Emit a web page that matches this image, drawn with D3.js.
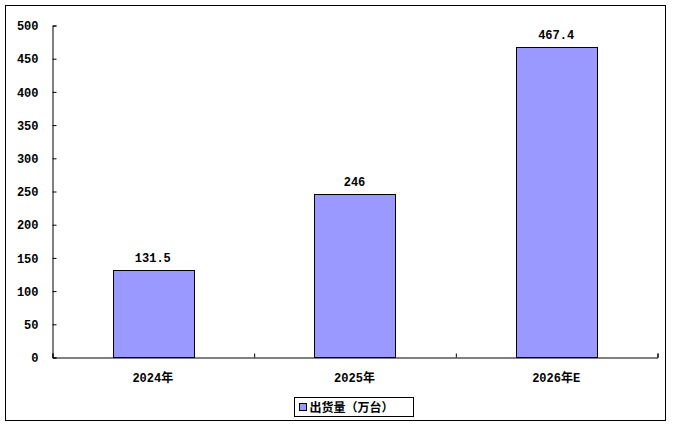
<!DOCTYPE html>
<meta charset="utf-8">
<head>
  <script src="https://d3js.org/d3.v7.min.js"></script>
  <style>
    body { margin: 0; background: #fff; }
    text { font-family: "Liberation Mono", "Noto Sans CJK SC", monospace; font-weight: bold; font-size: 12px; fill: #000; }
    .cjk { font-family: "Noto Sans CJK SC", sans-serif; }
  </style>
</head>
<body>
<script>

var categories = ["2024年", "2025年", "2026年E"];
var values = [131.5, 246, 467.4];
var valueLabels = ["131.5", "246", "467.4"];
var yTicks = [0, 50, 100, 150, 200, 250, 300, 350, 400, 450, 500];
var seriesName = "出货量（万台）";

var W = 673, H = 426;
var plot = {left: 52, right: 657, top: 25, bottom: 357};

var svg = d3.select("body").append("svg")
    .attr("width", W)
    .attr("height", H);

// outer frame
svg.append("rect")
    .attr("x", 5.5).attr("y", 5.5)
    .attr("width", 660).attr("height", 415)
    .attr("fill", "#fff")
    .attr("stroke", "#000")
    .attr("stroke-width", 1);

var x = d3.scaleBand()
    .domain(categories)
    .range([plot.left, plot.right])
    .paddingInner(0.6)
    .paddingOuter(0.3);

var y = d3.scaleLinear()
    .domain([0, 500])
    .range([plot.bottom, plot.top]);

// bars
svg.selectAll("rect.bar")
    .data(values)
  .enter().append("rect")
    .attr("class", "bar")
    .attr("x", function(d, i) { return Math.round(x(categories[i])) + 0.5; })
    .attr("y", function(d) { return Math.round(y(d)) + 0.5; })
    .attr("width", Math.round(x.bandwidth()))
    .attr("height", function(d) { return Math.round(y(0)) - Math.round(y(d)); })
    .attr("fill", "#9999ff")
    .attr("stroke", "#000")
    .attr("stroke-width", 1);

// value labels
svg.selectAll("text.val")
    .data(values)
  .enter().append("text")
    .attr("class", "val")
    .attr("x", function(d, i) { return x(categories[i]) + x.bandwidth() / 2; })
    .attr("y", function(d) { return y(d) - 8; })
    .attr("text-anchor", "middle")
    .text(function(d, i) { return valueLabels[i]; });

// y axis
var yAxis = d3.axisLeft(y)
    .tickValues(yTicks)
    .tickSize(-4)
    .tickPadding(14)
    .tickFormat(d3.format("d"));

var gy = svg.append("g")
    .attr("transform", "translate(" + (plot.left + 0.5) + ",0.5)")
    .call(yAxis);
gy.select(".domain").attr("stroke", "#000");
gy.selectAll(".tick line").attr("stroke", "#000");
gy.selectAll(".tick text").attr("dy", "0.35em").style("font-size", "12px");

// x axis with boundary ticks
var bandStep = (plot.right - plot.left) / categories.length;
var xAxisScale = d3.scaleLinear().domain([0, categories.length]).range([plot.left, plot.right]);
var gx = svg.append("g")
    .attr("transform", "translate(0.5," + (plot.bottom + 0.5) + ")")
    .call(d3.axisBottom(xAxisScale).ticks(categories.length).tickSize(-4).tickFormat(""));
gx.select(".domain").attr("stroke", "#000");
gx.selectAll(".tick line").attr("stroke", "#000");

svg.selectAll("text.cat")
    .data(categories)
  .enter().append("text")
    .attr("class", "cat")
    .attr("x", function(d) { return x(d) + x.bandwidth() / 2; })
    .attr("y", plot.bottom + 25)
    .attr("text-anchor", "middle")
    .text(function(d) { return d; });

// legend
var lg = svg.append("g").attr("transform", "translate(294.5,397.5)");
lg.append("rect")
    .attr("width", 119).attr("height", 19)
    .attr("fill", "#fff").attr("stroke", "#000");
lg.append("rect")
    .attr("x", 5).attr("y", 6)
    .attr("width", 7).attr("height", 7)
    .attr("fill", "#9999ff").attr("stroke", "#000");
lg.append("text")
    .attr("class", "cjk")
    .attr("x", 15).attr("y", 14)
    .text(seriesName);

</script>
</body>
